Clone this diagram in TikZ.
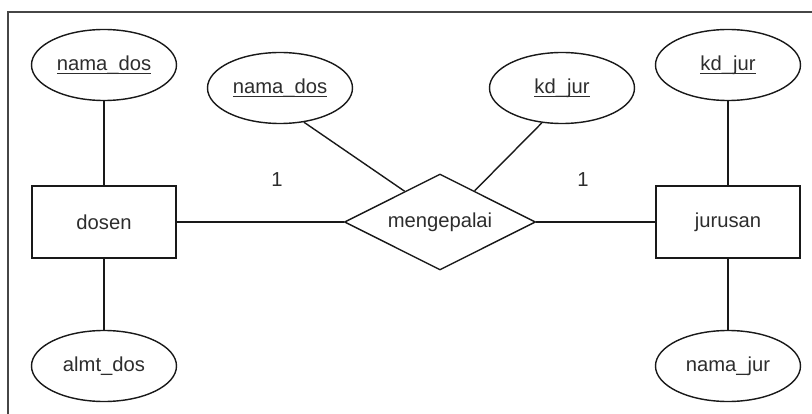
\documentclass[tikz,border=0pt]{standalone}
\usepackage{fontspec}
\setmainfont{Liberation Sans}
\usetikzlibrary{shapes.geometric}
\definecolor{erline}{RGB}{25,25,25}
\definecolor{ertext}{RGB}{45,45,45}
\definecolor{frame}{RGB}{70,70,70}
\newcommand{\erfont}{\fontsize{11.5}{13.8}\selectfont}
\newcommand{\pk}[1]{\setbox0=\hbox{#1}\rlap{\rule[-2.4pt]{\wd0}{0.7pt}}\box0}

\begin{document}
\begin{tikzpicture}[
    entity/.style={rectangle,draw=erline,line width=0.8pt,inner sep=0pt,
      minimum width=2.88cm,minimum height=1.44cm,font=\erfont,text=ertext},
    attr/.style={ellipse,draw=erline,line width=0.8pt,inner sep=0pt,
      minimum width=2.9cm,minimum height=1.42cm,font=\erfont,text=ertext},
    rel/.style={diamond,aspect=2,draw=erline,line width=0.8pt,inner sep=0pt,
      minimum width=3.82cm,minimum height=1.92cm,font=\erfont,text=ertext},
    card/.style={font=\erfont,text=ertext},
    link/.style={draw=erline,line width=0.8pt}
  ]
    \useasboundingbox (-8.8,-3.84) rectangle (7.44,4.44);
    \clip (-8.8,-3.84) rectangle (7.44,4.44);
    \draw[frame,line width=1.1pt] (-8.64,4.2) rectangle (8,-4.5);

    % entities and relationship
    \node[entity] (dosen) at (-6.72,0) {dosen};
    \node[entity] (jurusan) at (5.76,0) {jurusan};
    \node[rel] (mgp) at (0,0) {mengepalai};

    % attributes
    \node[attr] (dosnama) at (-6.72,3.14) {\pk{nama\_dos}};
    \node[attr] (dosalmt) at (-6.72,-2.88) {almt\_dos};
    \node[attr] (relnama) at (-3.2,2.68) {\pk{nama\_dos}};
    \node[attr] (relkd) at (2.44,2.68) {\pk{kd\_jur}};
    \node[attr] (jurkd) at (5.76,3.14) {\pk{kd\_jur}};
    \node[attr] (jurnama) at (5.76,-2.88) {nama\_jur};

    \node[card] (cdos) at (-3.26,0.84) {1};
    \node[card] (cjur) at (2.86,0.84) {1};

    \draw[link] (dosnama) -- (dosen);
    \draw[link] (dosen) -- (dosalmt);
    \draw[link] (dosen) -- (mgp);
    \draw[link] (mgp) -- (jurusan);
    \draw[link] (jurkd) -- (jurusan);
    \draw[link] (jurusan) -- (jurnama);
    \draw[link] (relnama.-55) -- (mgp.139);
    \draw[link] (relkd.-120) -- (mgp.42);
  \end{tikzpicture}
\end{document}
